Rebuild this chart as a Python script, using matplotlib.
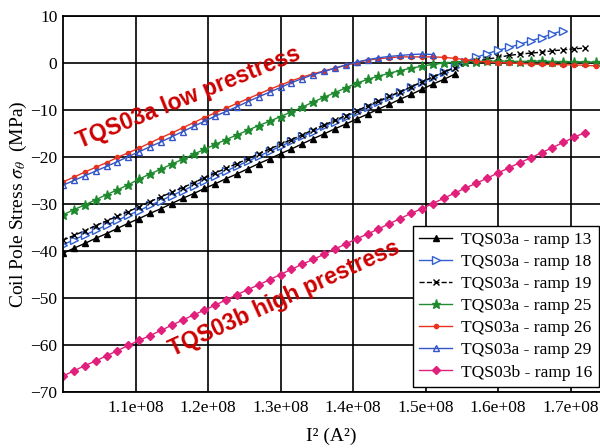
import numpy as np
import matplotlib.pyplot as plt

plt.rcParams["font.family"] = ["Liberation Serif", "DejaVu Serif"]
plt.rcParams["mathtext.fontset"] = "stix"

# x values in units of 1e6 A^2
x_grid = [100.0, 101.5, 103.0, 104.5, 106.0, 107.5, 109.0, 110.5, 112.0, 113.5,
          115.0, 116.5, 118.0, 119.5, 121.0, 122.5, 124.0, 125.5, 127.0, 128.5,
          130.0, 131.5, 133.0, 134.5, 136.0, 137.5, 139.0, 140.5, 142.0, 143.5,
          145.0, 146.5, 148.0, 149.5, 151.0, 152.5, 154.0, 155.5, 157.0, 158.5,
          160.0, 161.5, 163.0, 164.5, 166.0, 167.5, 169.0, 170.5, 172.0, 173.5]

ramp13 = [-40.5, -39.4, -38.4, -37.3, -36.3, -35.2, -34.1, -33.1, -32.0, -31.0,
          -29.9, -28.8, -27.8, -26.7, -25.7, -24.6, -23.6, -22.5, -21.4, -20.4,
          -19.3, -18.3, -17.2, -16.1, -15.1, -14.0, -13.0, -11.9, -10.9, -9.8,
          -8.8, -7.7, -6.7, -5.6, -4.5, -3.5, -2.4]

ramp18 = [-38.7, -37.6, -36.6, -35.6, -34.5, -33.5, -32.4, -31.4, -30.3, -29.3,
          -28.2, -27.2, -26.1, -25.1, -24.0, -23.0, -21.9, -20.9, -19.8, -18.8,
          -17.7, -16.7, -15.6, -14.6, -13.5, -12.5, -11.4, -10.4, -9.3, -8.3,
          -7.2, -6.2, -5.1, -4.1, -3.0, -2.0, -0.9, 0.3, 1.2, 2.0,
          2.7, 3.3, 4.0, 4.7, 5.4, 6.2, 6.9]

ramp19 = [-37.7, -36.7, -35.7, -34.6, -33.6, -32.6, -31.6, -30.6, -29.5, -28.5,
          -27.5, -26.5, -25.5, -24.4, -23.4, -22.4, -21.4, -20.4, -19.3, -18.3,
          -17.3, -16.3, -15.3, -14.2, -13.2, -12.2, -11.2, -10.2, -9.1, -8.1,
          -7.1, -6.1, -5.1, -4.0, -3.0, -2.0, -1.0, -0.1, 0.4, 0.8,
          1.2, 1.6, 1.9, 2.1, 2.3, 2.6, 2.8, 3.0, 3.2]

ramp25 = [-32.3, -31.2, -30.2, -29.1, -28.0, -27.0, -25.9, -24.7, -23.6, -22.6,
          -21.5, -20.5, -19.4, -18.4, -17.3, -16.3, -15.3, -14.3, -13.3, -12.4,
          -11.4, -10.4, -9.4, -8.3, -7.3, -6.3, -5.3, -4.3, -3.5, -2.8,
          -2.2, -1.6, -1.1, -0.7, -0.3, 0.0, 0.2, 0.3, 0.3, 0.4,
          0.4, 0.4, 0.3, 0.4, 0.4, 0.3, 0.3, 0.3, 0.2, 0.2]

ramp26 = [-25.3, -24.3, -23.2, -22.2, -21.2, -20.1, -19.1, -18.1, -17.0, -15.9,
          -14.9, -13.8, -12.7, -11.6, -10.6, -9.6, -8.6, -7.6, -6.6, -5.6,
          -4.7, -3.8, -3.0, -2.3, -1.7, -1.1, -0.5, 0.1, 0.6, 0.9,
          1.1, 1.3, 1.3, 1.3, 1.3, 1.2, 1.0, 0.7, 0.4, 0.2,
          0.1, 0.0, -0.1, -0.2, -0.3, -0.3, -0.4, -0.4, -0.5, -0.6]

ramp29 = [-26.0, -25.0, -24.0, -23.0, -22.0, -21.0, -19.9, -18.9, -17.8, -16.8,
          -15.7, -14.6, -13.5, -12.4, -11.3, -10.3, -9.3, -8.2, -7.2, -6.2,
          -5.2, -4.2, -3.3, -2.5, -1.8, -1.1, -0.4, 0.2, 0.7, 1.1,
          1.4, 1.6, 1.8, 1.9, 1.8]

ramp16b = [-66.6, -65.5, -64.4, -63.4, -62.3, -61.2, -60.1, -59.0, -58.0, -56.9,
           -55.8, -54.7, -53.6, -52.6, -51.5, -50.4, -49.3, -48.2, -47.2, -46.1,
           -45.0, -43.9, -42.8, -41.8, -40.7, -39.6, -38.5, -37.4, -36.4, -35.3,
           -34.2, -33.1, -32.0, -31.0, -29.9, -28.8, -27.7, -26.6, -25.6, -24.5,
           -23.4, -22.3, -21.2, -20.2, -19.1, -18.0, -16.9, -15.8, -14.8]

x_ticks = [1.1e8, 1.2e8, 1.3e8, 1.4e8, 1.5e8, 1.6e8, 1.7e8]
x_tick_labels = ["1.1e+08", "1.2e+08", "1.3e+08", "1.4e+08", "1.5e+08", "1.6e+08", "1.7e+08"]
y_ticks = [-70, -60, -50, -40, -30, -20, -10, 0, 10]

series = [
    ("TQS03a - ramp 13", ramp13, dict(color="black", marker="^", ms=5, ls="-")),
    ("TQS03a - ramp 18", ramp18, dict(color="#2f5fd0", marker=">", ms=5.5, mfc="white", ls="-")),
    ("TQS03a - ramp 19", ramp19, dict(color="black", marker="x", ms=4, ls="--")),
    ("TQS03a - ramp 25", ramp25, dict(color="#1f8a2e", marker="*", ms=6.5, ls="-")),
    ("TQS03a - ramp 26", ramp26, dict(color="#e8321e", marker="o", ms=3, ls="-")),
    ("TQS03a - ramp 29", ramp29, dict(color="#3355c8", marker="^", ms=4, mfc="none", ls="-")),
    ("TQS03b - ramp 16", ramp16b, dict(color="#e0207a", marker="D", ms=4, ls="-")),
]

fig = plt.figure(figsize=(6, 4.48), dpi=100)
ax = fig.add_axes([63 / 600, 56 / 448, 537 / 600, 376 / 448])

for label, y, style in series:
    x = np.array(x_grid[:len(y)]) * 1e6
    ax.plot(x, y, lw=1.0, label=label, **style)

ax.set_xlim(1.0e8, 1.0e8 + 537 / 72.5 * 1e7)
ax.set_ylim(-70, 10)
ax.set_xticks(x_ticks)
ax.set_xticklabels(x_tick_labels)
ax.set_yticks(y_ticks)
ax.grid(True, color="black", lw=1.2)
ax.set_axisbelow(True)
ax.tick_params(length=0, labelsize=12.5)
ax.tick_params(axis="x", pad=6)
ax.tick_params(axis="y", pad=4)
ax.spines["right"].set_visible(False)
for s in ("left", "top", "bottom"):
    ax.spines[s].set_linewidth(1.3)

ax.set_xlabel("I² (A²)", fontsize=14, labelpad=8)
ax.set_ylabel(r"Coil Pole Stress $\sigma_\theta$  (MPa)", fontsize=14, labelpad=1)

ax.text(1.173e8, -7.3, "TQS03a low prestress", color="#cc0000", fontsize=16.5,
        fontweight="bold", family="Liberation Sans", rotation=22,
        ha="center", va="center", rotation_mode="anchor")
ax.text(1.306e8, -50.2, "TQS03b high prestress", color="#cc0000", fontsize=16.5,
        fontweight="bold", family="Liberation Sans", rotation=24.5,
        ha="center", va="center", rotation_mode="anchor")

leg = ax.legend(loc="upper left", bbox_to_anchor=((413 - 63) / 537, (392 - 226) / 376),
                borderaxespad=0, fontsize=12.6, frameon=True, fancybox=False,
                edgecolor="black", framealpha=1, handlelength=1.9,
                labelspacing=0.33, borderpad=0.35, handletextpad=0.5)
leg.get_frame().set_linewidth(1.0)

fig.savefig("out.png", dpi=100)
